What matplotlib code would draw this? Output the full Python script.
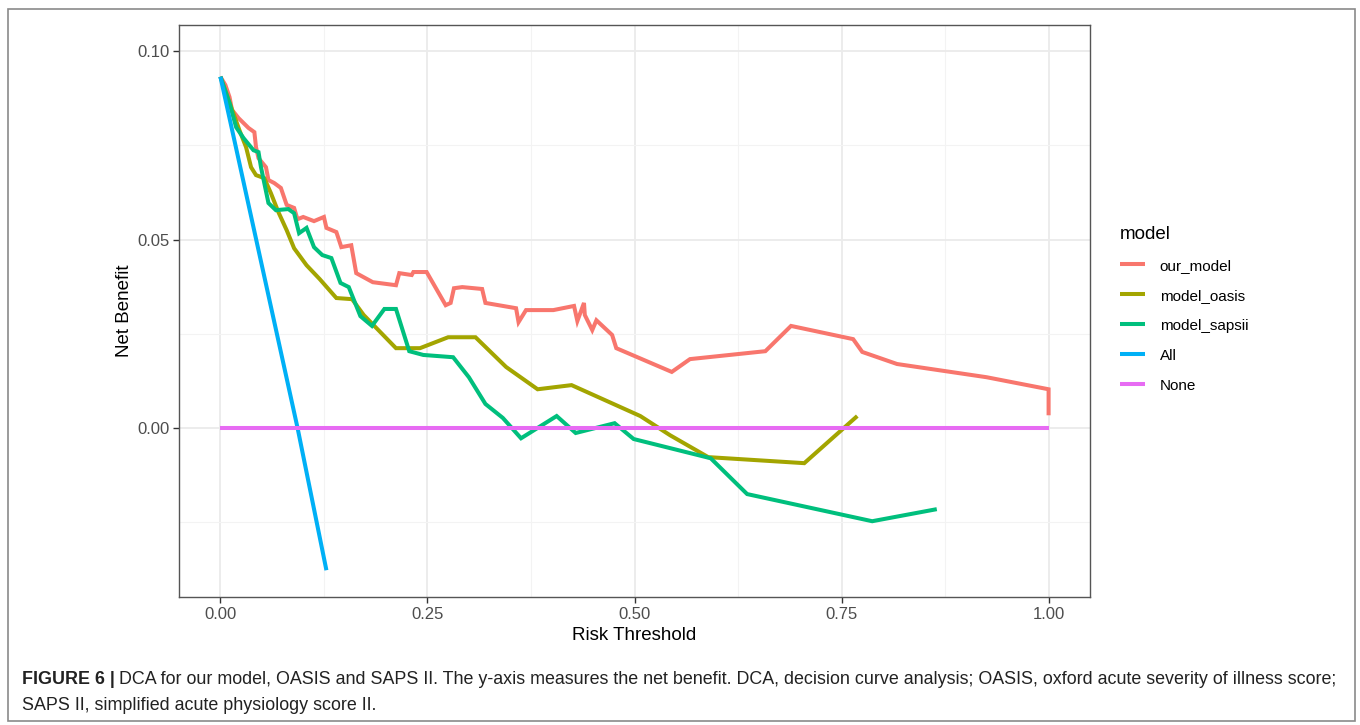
import matplotlib.pyplot as plt
from matplotlib.patches import Rectangle

plt.rcParams['font.family'] = ['Liberation Sans', 'DejaVu Sans']

# decision curve data
our_x = [0.0, 0.006, 0.011, 0.014, 0.022, 0.034, 0.041, 0.043, 0.046, 0.055, 0.058,
         0.065, 0.073, 0.080, 0.089, 0.093, 0.100, 0.113, 0.125, 0.128, 0.140, 0.146,
         0.158, 0.164, 0.184, 0.212, 0.216, 0.231, 0.233, 0.249, 0.272, 0.278, 0.282,
         0.292, 0.316, 0.320, 0.357, 0.360, 0.369, 0.402, 0.427, 0.431, 0.439, 0.440,
         0.449, 0.454, 0.473, 0.478, 0.545, 0.567, 0.658, 0.689, 0.764, 0.775, 0.817,
         0.925, 1.000, 1.000]
our_y = [0.0932, 0.0910, 0.0878, 0.0844, 0.0822, 0.0796, 0.0785, 0.0745, 0.0716, 0.0692,
         0.0658, 0.0650, 0.0637, 0.0592, 0.0584, 0.0554, 0.0560, 0.0549, 0.0560, 0.0531,
         0.0520, 0.0480, 0.0485, 0.0411, 0.0387, 0.0379, 0.0411, 0.0406, 0.0414, 0.0414,
         0.0326, 0.0332, 0.0371, 0.0374, 0.0369, 0.0332, 0.0318, 0.0281, 0.0313, 0.0313,
         0.0324, 0.0284, 0.0332, 0.0300, 0.0260, 0.0286, 0.0247, 0.0212, 0.0149, 0.0183,
         0.0204, 0.0271, 0.0236, 0.0202, 0.0170, 0.0135, 0.0103, 0.0034]

oasis_x = [0.0, 0.013, 0.023, 0.031, 0.037, 0.043, 0.053, 0.061, 0.070, 0.080, 0.089,
           0.104, 0.120, 0.140, 0.159, 0.173, 0.212, 0.241, 0.275, 0.308, 0.345, 0.383,
           0.424, 0.507, 0.543, 0.589, 0.705, 0.769]
oasis_y = [0.0932, 0.0851, 0.0790, 0.0745, 0.0692, 0.0671, 0.0663, 0.0623, 0.0573, 0.0525,
           0.0477, 0.0432, 0.0395, 0.0345, 0.0342, 0.0300, 0.0212, 0.0212, 0.0241, 0.0241,
           0.0162, 0.0103, 0.0114, 0.0032, -0.0019, -0.0077, -0.0093, 0.0032]

sapsii_x = [0.0, 0.011, 0.019, 0.028, 0.040, 0.046, 0.049, 0.058, 0.067, 0.082, 0.089,
            0.095, 0.104, 0.113, 0.123, 0.134, 0.145, 0.155, 0.169, 0.183, 0.198, 0.212,
            0.228, 0.245, 0.281, 0.300, 0.320, 0.341, 0.363, 0.406, 0.429, 0.476, 0.499,
            0.592, 0.636, 0.787, 0.865]
sapsii_y = [0.0932, 0.0862, 0.0798, 0.0769, 0.0737, 0.0732, 0.0692, 0.0597, 0.0578, 0.0581,
            0.0570, 0.0517, 0.0531, 0.0480, 0.0459, 0.0451, 0.0385, 0.0374, 0.0297, 0.0271,
            0.0316, 0.0316, 0.0204, 0.0194, 0.0188, 0.0135, 0.0064, 0.0027, -0.0027, 0.0032,
            -0.0013, 0.0013, -0.0029, -0.0080, -0.0175, -0.0247, -0.0215]

all_x = [0.0, 0.0932, 0.128]
all_y = [0.0932, 0.0, -0.0377]

none_x = [0.0, 1.0]
none_y = [0.0, 0.0]

labels = ['our_model', 'model_oasis', 'model_sapsii', 'All', 'None']
colors = ['#F8766D', '#A3A500', '#00BF7D', '#00B0F6', '#E76BF3']
series = [(our_x, our_y), (oasis_x, oasis_y), (sapsii_x, sapsii_y),
          (all_x, all_y), (none_x, none_y)]

fig = plt.figure(figsize=(13.6, 7.25), dpi=100)
fig.patches.append(Rectangle((8 / 1360, 1 - 721 / 725), 1347 / 1360, 712 / 725,
                             transform=fig.transFigure, fill=False,
                             edgecolor='#8a8a8a', linewidth=1.2))

ax = fig.add_axes([179 / 1360, 1 - 597 / 725, 911 / 1360, 572.3 / 725])

for (xs, ys), lab, col in zip(series, labels, colors):
    ax.plot(xs, ys, color=col, linewidth=2.9, label=lab,
            solid_joinstyle='miter', solid_capstyle='butt')

ax.set_xlim(-0.05, 1.05)
ax.set_ylim(-0.0448, 0.1070)
ax.set_xticks([0, 0.25, 0.5, 0.75, 1.0])
ax.set_xticklabels(['0.00', '0.25', '0.50', '0.75', '1.00'])
ax.set_yticks([0.0, 0.05, 0.10])
ax.set_yticklabels(['0.00', '0.05', '0.10'])
ax.set_xticks([0.125, 0.375, 0.625, 0.875], minor=True)
ax.set_yticks([-0.025, 0.025, 0.075], minor=True)
ax.grid(which='major', color='#EBEBEB', linewidth=1.3)
ax.grid(which='minor', color='#F3F3F3', linewidth=0.8)
ax.set_axisbelow(True)
ax.tick_params(which='major', length=4, width=1, color='#333333',
               labelsize=12, labelcolor='#4D4D4D', pad=3)
ax.tick_params(which='minor', length=0)
for s in ax.spines.values():
    s.set_color('#555555')
    s.set_linewidth(1.0)

ax.set_xlabel('Risk Threshold', fontsize=13.5, labelpad=4)
ax.set_ylabel('Net Benefit', fontsize=13.5, labelpad=3)

leg = ax.legend(loc='upper left', bbox_to_anchor=(1.018, 0.673), frameon=False,
                title='model', fontsize=11, title_fontsize=13.5,
                handlelength=1.6, handletextpad=1.0, labelspacing=1.05)
leg._legend_box.align = 'left'

# caption
fig.canvas.draw()
cap_y1 = 1 - 679 / 725
t1 = fig.text(22 / 1360, cap_y1, 'FIGURE 6 |', fontsize=12.9, fontweight='bold',
              color='#222222', va='center')
fig.canvas.draw()
bb = t1.get_window_extent()
fig.text((bb.x1 + 4) / 1360, cap_y1,
         'DCA for our model, OASIS and SAPS II. The y-axis measures the net benefit. '
         'DCA, decision curve analysis; OASIS, oxford acute severity of illness score;',
         fontsize=12.9, color='#222222', va='center')
fig.text(22 / 1360, 1 - 705 / 725, 'SAPS II, simplified acute physiology score II.',
         fontsize=12.9, color='#222222', va='center')

fig.savefig('out.png', dpi=100)
plt.close()
